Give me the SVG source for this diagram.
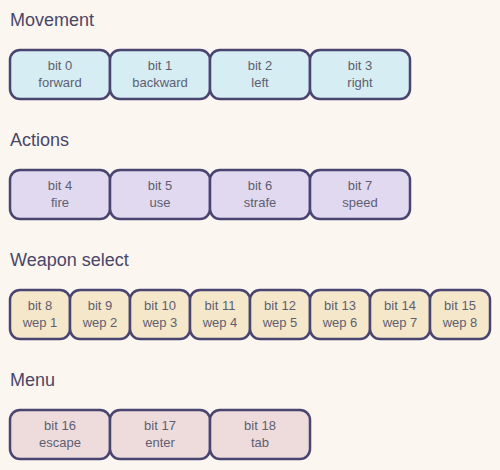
<svg xmlns="http://www.w3.org/2000/svg" width="500" height="470" viewBox="0 0 500 470">
<style>
.bg{fill:#fbf6f0}
.title{font-family:"Liberation Sans",Arial,sans-serif;font-size:18px;fill:#4a4668}
.box{stroke:#4a4570;stroke-width:2.5;stroke-linejoin:round}
.mv{fill:#d5edf3}
.ac{fill:#e0d9ef}
.wp{fill:#f5e7c9}
.mn{fill:#eedcdc}
.t{font-family:"Liberation Sans",Arial,sans-serif;font-size:13px;fill:#5f5e72;text-anchor:middle}
</style>
<rect class="bg" x="0" y="0" width="500" height="470"/>
<text class="title" x="10" y="26">Movement</text>
<text class="title" x="10" y="146">Actions</text>
<text class="title" x="10" y="266">Weapon select</text>
<text class="title" x="10" y="386">Menu</text>
<g id="bit0"><rect class="box mv" x="10" y="50" width="100" height="49" rx="10"/><text class="t" x="60" y="70">bit 0</text><text class="t" x="60" y="87">forward</text></g>
<g id="bit1"><rect class="box mv" x="110" y="50" width="100" height="49" rx="10"/><text class="t" x="160" y="70">bit 1</text><text class="t" x="160" y="87">backward</text></g>
<g id="bit2"><rect class="box mv" x="210" y="50" width="100" height="49" rx="10"/><text class="t" x="260" y="70">bit 2</text><text class="t" x="260" y="87">left</text></g>
<g id="bit3"><rect class="box mv" x="310" y="50" width="100" height="49" rx="10"/><text class="t" x="360" y="70">bit 3</text><text class="t" x="360" y="87">right</text></g>
<g id="bit4"><rect class="box ac" x="10" y="170" width="100" height="49" rx="10"/><text class="t" x="60" y="190">bit 4</text><text class="t" x="60" y="207">fire</text></g>
<g id="bit5"><rect class="box ac" x="110" y="170" width="100" height="49" rx="10"/><text class="t" x="160" y="190">bit 5</text><text class="t" x="160" y="207">use</text></g>
<g id="bit6"><rect class="box ac" x="210" y="170" width="100" height="49" rx="10"/><text class="t" x="260" y="190">bit 6</text><text class="t" x="260" y="207">strafe</text></g>
<g id="bit7"><rect class="box ac" x="310" y="170" width="100" height="49" rx="10"/><text class="t" x="360" y="190">bit 7</text><text class="t" x="360" y="207">speed</text></g>
<g id="bit8"><rect class="box wp" x="10" y="290" width="60" height="49" rx="10"/><text class="t" x="40" y="310">bit 8</text><text class="t" x="40" y="327">wep 1</text></g>
<g id="bit9"><rect class="box wp" x="70" y="290" width="60" height="49" rx="10"/><text class="t" x="100" y="310">bit 9</text><text class="t" x="100" y="327">wep 2</text></g>
<g id="bit10"><rect class="box wp" x="130" y="290" width="60" height="49" rx="10"/><text class="t" x="160" y="310">bit 10</text><text class="t" x="160" y="327">wep 3</text></g>
<g id="bit11"><rect class="box wp" x="190" y="290" width="60" height="49" rx="10"/><text class="t" x="220" y="310">bit 11</text><text class="t" x="220" y="327">wep 4</text></g>
<g id="bit12"><rect class="box wp" x="250" y="290" width="60" height="49" rx="10"/><text class="t" x="280" y="310">bit 12</text><text class="t" x="280" y="327">wep 5</text></g>
<g id="bit13"><rect class="box wp" x="310" y="290" width="60" height="49" rx="10"/><text class="t" x="340" y="310">bit 13</text><text class="t" x="340" y="327">wep 6</text></g>
<g id="bit14"><rect class="box wp" x="370" y="290" width="60" height="49" rx="10"/><text class="t" x="400" y="310">bit 14</text><text class="t" x="400" y="327">wep 7</text></g>
<g id="bit15"><rect class="box wp" x="430" y="290" width="60" height="49" rx="10"/><text class="t" x="460" y="310">bit 15</text><text class="t" x="460" y="327">wep 8</text></g>
<g id="bit16"><rect class="box mn" x="10" y="410" width="100" height="49" rx="10"/><text class="t" x="60" y="430">bit 16</text><text class="t" x="60" y="447">escape</text></g>
<g id="bit17"><rect class="box mn" x="110" y="410" width="100" height="49" rx="10"/><text class="t" x="160" y="430">bit 17</text><text class="t" x="160" y="447">enter</text></g>
<g id="bit18"><rect class="box mn" x="210" y="410" width="100" height="49" rx="10"/><text class="t" x="260" y="430">bit 18</text><text class="t" x="260" y="447">tab</text></g>
<g id="connectors"/>
</svg>
